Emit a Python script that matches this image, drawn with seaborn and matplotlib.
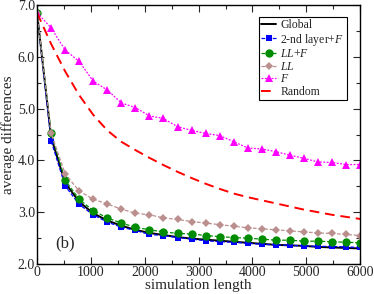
import numpy as np
import pandas as pd
import matplotlib
matplotlib.use("Agg")
import matplotlib.pyplot as plt
from matplotlib.ticker import MultipleLocator
import seaborn as sns

sim_length = np.linspace(0, 6000, 24)

global_vals = [6.85, 4.45, 3.57, 3.20, 2.98, 2.84, 2.74, 2.66, 2.60, 2.56, 2.52, 2.49,
               2.47, 2.45, 2.43, 2.41, 2.39, 2.37, 2.36, 2.35, 2.33, 2.32, 2.31, 2.30]
second_layer_f = [6.85, 4.38, 3.51, 3.15, 2.95, 2.81, 2.71, 2.65, 2.57, 2.55, 2.51, 2.48,
                  2.45, 2.43, 2.42, 2.40, 2.38, 2.37, 2.36, 2.35, 2.34, 2.34, 2.33, 2.32]
ll_f = [6.85, 4.53, 3.62, 3.25, 3.03, 2.89, 2.79, 2.71, 2.66, 2.62, 2.59, 2.58,
        2.55, 2.53, 2.51, 2.50, 2.48, 2.46, 2.46, 2.44, 2.44, 2.43, 2.42, 2.41]
ll = [6.85, 4.53, 3.74, 3.41, 3.25, 3.16, 3.06, 2.98, 2.95, 2.89, 2.86, 2.82,
      2.79, 2.76, 2.73, 2.70, 2.68, 2.66, 2.64, 2.62, 2.60, 2.59, 2.57, 2.55]
f_vals = [6.85, 6.56, 6.13, 5.91, 5.53, 5.36, 5.11, 5.02, 4.86, 4.81, 4.65, 4.58,
          4.52, 4.48, 4.36, 4.24, 4.22, 4.17, 4.10, 4.04, 3.97, 3.96, 3.92, 3.92]
random_vals = [6.85, 6.25, 5.72, 5.26, 4.88, 4.58, 4.36, 4.20, 4.05, 3.91, 3.78, 3.66,
               3.55, 3.45, 3.36, 3.29, 3.23, 3.17, 3.11, 3.05, 3.00, 2.95, 2.91, 2.87]

labels = ["Global", r"2-nd layer+$F$", r"$LL$+$F$", r"$LL$", r"$F$", "Random"]

sns.set_style("ticks")
plt.rcParams["font.family"] = ["Liberation Serif", "DejaVu Serif"]
plt.rcParams["mathtext.fontset"] = "custom"
plt.rcParams["mathtext.rm"] = "Liberation Serif"
plt.rcParams["mathtext.it"] = "Liberation Serif:italic"

fig = plt.figure(figsize=(3.74, 2.94), dpi=100)
ax = fig.add_axes([0.099, 0.102, 0.864, 0.881])

sns.lineplot(x=sim_length, y=global_vals, ax=ax, color="black", lw=1.4, label=labels[0])
sns.lineplot(x=sim_length, y=second_layer_f, ax=ax, color="#0000ff", lw=0.9,
             linestyle=(0, (3, 1.5)), marker="s", markersize=5, markeredgewidth=0,
             label=labels[1])
sns.lineplot(x=sim_length, y=ll_f, ax=ax, color="#008c00", lw=0.9,
             linestyle=(0, (3, 1.5)), marker="o", markersize=6, markeredgewidth=0,
             label=labels[2])
sns.lineplot(x=sim_length, y=ll, ax=ax, color="#bc8f8f", lw=0.9,
             linestyle=(0, (3, 1.5)), marker="D", markersize=4.5, markeredgewidth=0,
             label=labels[3])
sns.lineplot(x=sim_length, y=f_vals, ax=ax, color="#ff00ff", lw=0.9,
             linestyle=(0, (1.5, 1.2)), marker="^", markersize=6, markeredgewidth=0,
             label=labels[4])
sns.lineplot(x=sim_length, y=random_vals, ax=ax, color="#ff0000", lw=1.4,
             linestyle=(0, (5, 3)), label=labels[5])

ax.set_xlim(0, 6000)
ax.set_ylim(2.0, 7.0)
ax.xaxis.set_major_locator(MultipleLocator(1000))
ax.xaxis.set_minor_locator(MultipleLocator(500))
ax.yaxis.set_major_locator(MultipleLocator(1.0))
ax.yaxis.set_minor_locator(MultipleLocator(0.5))
ax.yaxis.set_major_formatter(matplotlib.ticker.FormatStrFormatter("%.1f"))
ax.tick_params(which="both", direction="in", top=True, right=True, labelsize=10,
               pad=1.5)
ax.tick_params(which="major", length=5, width=0.8)
ax.tick_params(which="minor", length=3, width=0.8)
for s in ax.spines.values():
    s.set_linewidth(1.0)
    s.set_color("black")

ax.set_xlabel("simulation length", fontsize=11, labelpad=0)
ax.set_ylabel("average differences", fontsize=11, labelpad=2)

ax.text(330, 2.4, "(b)", fontsize=12, va="center", ha="left")

leg = ax.legend(loc="upper right", bbox_to_anchor=(0.958, 0.955), fontsize=8.5,
                frameon=True, fancybox=False, edgecolor="black", framealpha=1,
                handlelength=1.2, handletextpad=0.4, borderpad=0.2,
                labelspacing=0.05, borderaxespad=0)
leg.get_frame().set_linewidth(0.8)

fig.savefig("out.png", dpi=100)
